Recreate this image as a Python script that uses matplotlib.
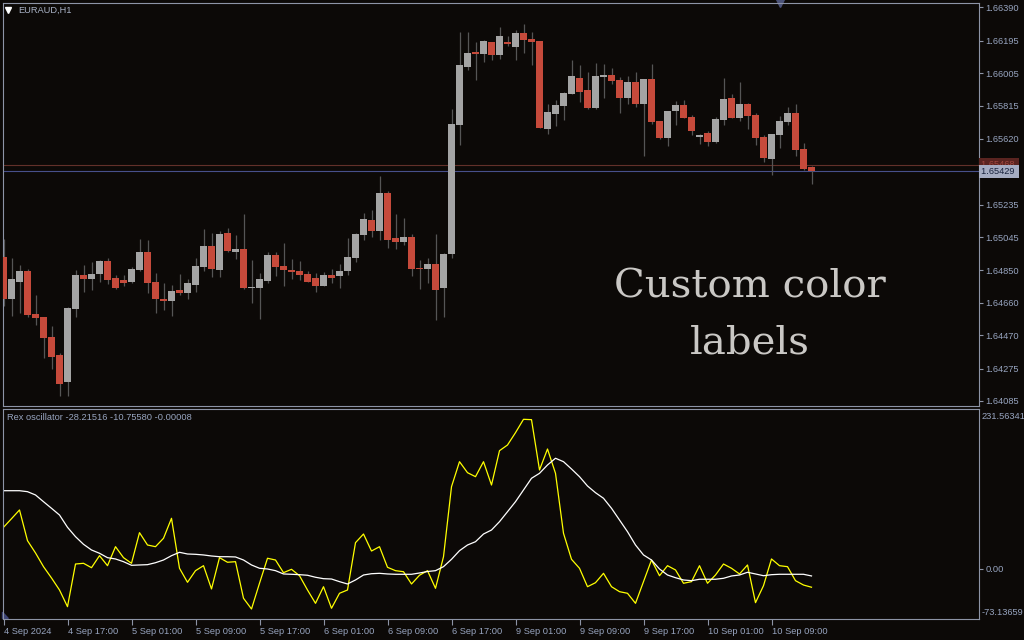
import matplotlib
matplotlib.use("Agg")
import matplotlib.pyplot as plt
import matplotlib.transforms as mtransforms
from matplotlib.patches import Polygon

# EURAUD H1 candles, 4 Sep 09:00 .. 10 Sep 14:00
opens = [1.64928, 1.64682, 1.64782, 1.64846, 1.64594, 1.64577, 1.64460, 1.64354, 1.64196, 1.64624,
         1.64823, 1.64799, 1.64828, 1.64905, 1.64805, 1.64793, 1.64782, 1.64852, 1.64957, 1.64782,
         1.64682, 1.64670, 1.64735, 1.64717, 1.64764, 1.64869, 1.64992, 1.64852, 1.65068, 1.64957,
         1.64975, 1.64746, 1.64746, 1.64787, 1.64940, 1.64875, 1.64852, 1.64846, 1.64828, 1.64805,
         1.64758, 1.64823, 1.64817, 1.64846, 1.64922, 1.65057, 1.65145, 1.65080, 1.65303, 1.65039,
         1.65016, 1.65045, 1.64864, 1.64858, 1.64887, 1.64746, 1.64946, 1.65701, 1.66040, 1.66128,
         1.66117, 1.66187, 1.66111, 1.66187, 1.66158, 1.66240, 1.66204, 1.66193, 1.65677, 1.65765,
         1.65812, 1.65882, 1.65976, 1.65906, 1.65800, 1.65982, 1.65994, 1.65964, 1.65859, 1.65953,
         1.65824, 1.65970, 1.65724, 1.65625, 1.65783, 1.65818, 1.65748, 1.65631, 1.65654, 1.65601,
         1.65730, 1.65859, 1.65742, 1.65824, 1.65759, 1.65631, 1.65502, 1.65642, 1.65718, 1.65771,
         1.65560, 1.65455]
highs = [1.65033, 1.64922, 1.64881, 1.64858, 1.64705, 1.64577, 1.64524, 1.64366, 1.64635, 1.64852,
         1.64881, 1.64899, 1.64910, 1.64922, 1.64823, 1.64823, 1.64869, 1.65033, 1.65028, 1.64834,
         1.64776, 1.64764, 1.64828, 1.64799, 1.64922, 1.65092, 1.65068, 1.65080, 1.65098, 1.65057,
         1.65180, 1.64910, 1.64834, 1.64957, 1.64957, 1.65010, 1.64916, 1.64905, 1.64846, 1.64834,
         1.64840, 1.64858, 1.64887, 1.65039, 1.65068, 1.65186, 1.65203, 1.65402, 1.65314, 1.65180,
         1.65156, 1.65063, 1.64910, 1.64922, 1.65063, 1.64951, 1.65795, 1.66245, 1.66245, 1.66187,
         1.66199, 1.66187, 1.66275, 1.66222, 1.66257, 1.66292, 1.66245, 1.66193, 1.65824, 1.65847,
         1.65894, 1.66081, 1.66052, 1.66011, 1.66064, 1.66058, 1.66035, 1.65982, 1.65988, 1.66011,
         1.65970, 1.66058, 1.65724, 1.65783, 1.65841, 1.65847, 1.65759, 1.65648, 1.65666, 1.65748,
         1.65976, 1.65882, 1.65953, 1.65830, 1.65771, 1.65642, 1.65648, 1.65754, 1.65806, 1.65824,
         1.65595, 1.65461]
lows = [1.64641, 1.64583, 1.64600, 1.64577, 1.64530, 1.64337, 1.64272, 1.64114, 1.64114, 1.64577,
        1.64723, 1.64735, 1.64782, 1.64770, 1.64741, 1.64758, 1.64776, 1.64846, 1.64717, 1.64600,
        1.64618, 1.64583, 1.64705, 1.64682, 1.64723, 1.64846, 1.64811, 1.64811, 1.64957, 1.64916,
        1.64741, 1.64659, 1.64565, 1.64776, 1.64817, 1.64758, 1.64799, 1.64793, 1.64782, 1.64723,
        1.64758, 1.64776, 1.64746, 1.64823, 1.64899, 1.65028, 1.65045, 1.65028, 1.64981, 1.64975,
        1.64998, 1.64817, 1.64741, 1.64776, 1.64559, 1.64577, 1.64922, 1.65584, 1.66023, 1.65964,
        1.66070, 1.66081, 1.66087, 1.66163, 1.66081, 1.66122, 1.66052, 1.65683, 1.65648, 1.65695,
        1.65730, 1.65882, 1.65835, 1.65795, 1.65795, 1.65859, 1.65941, 1.65771, 1.65824, 1.65806,
        1.65519, 1.65707, 1.65619, 1.65578, 1.65701, 1.65742, 1.65642, 1.65590, 1.65578, 1.65595,
        1.65701, 1.65742, 1.65724, 1.65677, 1.65584, 1.65484, 1.65408, 1.65566, 1.65701, 1.65519,
        1.65437, 1.65355]
closes = [1.64682, 1.64799, 1.64846, 1.64588, 1.64571, 1.64454, 1.64343, 1.64184, 1.64629, 1.64823,
          1.64799, 1.64828, 1.64905, 1.64793, 1.64746, 1.64776, 1.64858, 1.64957, 1.64776, 1.64682,
          1.64670, 1.64729, 1.64717, 1.64776, 1.64875, 1.64992, 1.64858, 1.65063, 1.64963, 1.64975,
          1.64746, 1.64752, 1.64799, 1.64940, 1.64869, 1.64852, 1.64840, 1.64823, 1.64782, 1.64758,
          1.64823, 1.64805, 1.64846, 1.64928, 1.65063, 1.65150, 1.65080, 1.65303, 1.65028, 1.65016,
          1.65045, 1.64858, 1.64858, 1.64887, 1.64735, 1.64946, 1.65707, 1.66052, 1.66122, 1.66117,
          1.66193, 1.66111, 1.66222, 1.66175, 1.66240, 1.66199, 1.66187, 1.65683, 1.65777, 1.65818,
          1.65888, 1.65988, 1.65894, 1.65800, 1.65988, 1.65994, 1.65958, 1.65859, 1.65953, 1.65824,
          1.65970, 1.65718, 1.65625, 1.65783, 1.65818, 1.65742, 1.65666, 1.65642, 1.65601, 1.65736,
          1.65853, 1.65742, 1.65824, 1.65754, 1.65625, 1.65508, 1.65648, 1.65724, 1.65771, 1.65554,
          1.65443, 1.65429]

# Rex oscillator (yellow) and its signal line (white)
rex = [64.5, 77.8, 91.3, 43.8, 24.8, 3.6, -13.9, -32.5, -58.3, 7.7,
       8.8, 2.0, 20.6, 5.1, 34.5, 17.5, 8.8, 56.2, 37.1, 34.5,
       47.5, 78.4, 1.1, -20.6, -2.6, 5.1, -30.9, 17.5, 10.4, 11.3,
       -45.3, -61.9, -22.1, 16.6, 13.9, -5.7, -0.5, -10.4, -32.5, -53.1,
       -27.4, -60.8, -37.6, -32.5, 40.7, 54.1, 27.8, 34.5, 2.6, -2.6,
       -4.2, -23.2, -9.7, -2.6, -29.9, 19.0, 127.3, 166.0, 149.0, 142.8,
       166.0, 129.9, 183.0, 191.8, 210.9, 231.56, 231.0, 153.2, 185.6, 148.0,
       55.2, 15.0, 1.1, -27.4, -21.2, -6.7, -27.4, -35.1, -37.6, -53.1,
       -19.6, 13.9, -10.4, 5.1, -1.5, -22.1, -19.6, 5.1, -22.1, -9.3,
       7.7, 1.1, -7.7, 6.2, -52.1, -25.8, 15.5, 5.1, 3.6, -18.1,
       -24.8, -28.22]
signal = [121.1, 121.1, 121.1, 119.6, 114.5, 104.1, 93.9, 83.5, 64.5, 50.0,
          38.2, 29.4, 24.3, 17.5, 15.5, 11.3, 5.7, 6.2, 6.7, 9.7,
          13.9, 20.6, 25.8, 23.2, 22.7, 21.7, 20.1, 19.0, 19.0, 18.6,
          13.9, 6.2, 1.1, 0.0, -2.6, -7.7, -8.2, -8.8, -9.7, -12.8,
          -15.0, -15.5, -19.6, -23.2, -17.0, -9.3, -7.3, -6.7, -7.7, -8.2,
          -8.2, -8.2, -6.2, -3.9, -2.6, 3.6, 15.0, 28.3, 37.1, 42.2,
          54.1, 60.3, 73.2, 88.6, 104.1, 122.2, 140.3, 148.0, 160.9, 171.3,
          166.0, 154.7, 142.8, 128.4, 118.0, 109.4, 93.9, 75.8, 57.7, 37.1,
          21.7, 13.9, 0.0, -9.3, -13.5, -17.0, -18.1, -15.9, -15.9, -15.9,
          -14.4, -10.8, -9.3, -5.1, -7.7, -10.4, -8.8, -8.2, -8.2, -8.2,
          -8.2, -10.76]

price_ticks = [1.66390, 1.66195, 1.66005, 1.65815, 1.65620, 1.65235, 1.65045,
               1.64850, 1.64660, 1.64470, 1.64275, 1.64085]
time_labels = ["4 Sep 2024", "4 Sep 17:00", "5 Sep 01:00", "5 Sep 09:00", "5 Sep 17:00",
               "6 Sep 01:00", "6 Sep 09:00", "6 Sep 17:00", "9 Sep 01:00", "9 Sep 09:00",
               "9 Sep 17:00", "10 Sep 01:00", "10 Sep 09:00"]
ask_price = 1.65468
bid_price = 1.65429
osc_max, osc_min = 231.56341, -73.13659
osc_values = "-28.21516 -10.75580 -0.00008"

bg = '#0c0907'
frame = '#8d94a6'
txt = '#97a4bf'
bull = '#a4a4a4'
bear = '#c64a3b'
wick = '#555555'

plt.rcParams['font.family'] = ['Liberation Sans', 'DejaVu Sans']
W, H = 1024, 640
fig = plt.figure(figsize=(W / 100, H / 100), dpi=100, facecolor=bg)


def box(x0, y0, x1, y1):
    # axes from pixel edges (top-left origin)
    return fig.add_axes([x0 / W, 1 - y1 / H, (x1 - x0) / W, (y1 - y0) / H])


ax1 = box(2.5, 2.5, 978.5, 406)
ax2 = box(2.5, 409, 978.5, 618.5)

idx = list(range(len(closes)))
for ax in (ax1, ax2):
    ax.set_facecolor(bg)
    ax.set_xlim(-0.125, 121.875)
    for s in ax.spines.values():
        s.set_color(frame)
        s.set_linewidth(0.8)
    ax.yaxis.tick_right()
    ax.tick_params(axis='y', colors=frame, labelcolor=txt, labelsize=6.7,
                   length=3, width=0.8, pad=2)

# price panel
ax1.set_ylim(1.640556, 1.664181)
ax1.set_xticks([])
ax1.set_yticks(price_ticks)
ax1.set_yticklabels([f"{p:.5f}" for p in price_ticks])

ax1.axhline(ask_price, color='#62302a', lw=0.8, zorder=1)
ax1.axhline(bid_price, color='#47508a', lw=0.8, zorder=1)

bottoms = [min(o, c) for o, c in zip(opens, closes)]
heights = [max(abs(c - o), 0.00005) for o, c in zip(opens, closes)]
colors = [bull if c >= o else bear for o, c in zip(opens, closes)]
ax1.vlines(idx, lows, highs, color=wick, lw=0.9, zorder=2)
ax1.bar(idx, heights, bottom=bottoms, width=0.82, color=colors, linewidth=0, zorder=3)

tr = mtransforms.blended_transform_factory(fig.transFigure, ax1.transData)
ax1.text(981 / W, ask_price, f"{ask_price:.5f} ", transform=tr, va='center', ha='left',
         fontsize=6.7, color='#a04840',
         bbox=dict(boxstyle='square,pad=0.2', fc='#5a2420', ec='none'), zorder=5)
ax1.text(981 / W, bid_price, f"{bid_price:.5f} ", transform=tr, va='center', ha='left',
         fontsize=6.7, color='#18223c',
         bbox=dict(boxstyle='square,pad=0.2', fc='#a6adc2', ec='none'), zorder=6)

# small markers of the terminal
ax1.plot([(8 - 2.5) / 976], [1 - (10 - 2.5) / 403.5], marker='v', color='white',
         markersize=4, transform=ax1.transAxes, clip_on=False)
ax1.plot([97.1], [1.0], marker='v', color='#4b5278', markersize=6,
         transform=mtransforms.blended_transform_factory(ax1.transData, ax1.transAxes),
         clip_on=False)
fig.text(18 / W, 1 - 10 / H, "EURAUD,H1", fontsize=6.7, color='#a9b2c6', va='center')

fig.text(750 / W, 1 - 287 / H, "Custom color", fontsize=29, family='DejaVu Serif',
         color='#cac8c5', ha='center', va='center')
fig.text(750 / W, 1 - 343 / H, "labels", fontsize=29, family='DejaVu Serif',
         color='#cac8c5', ha='center', va='center')

# oscillator panel
ax2.set_ylim(-76.6, 247.5)
ax2.plot(idx, rex, color='#ffff00', lw=0.9)
ax2.plot(idx, signal, color='white', lw=0.9)
ax2.set_yticks([0])
ax2.set_yticklabels(["0.00"])
fig.text(982 / W, 1 - 412 / H, f"{osc_max:.5f}", fontsize=6.7,
         color=txt, ha='left', va='top')
fig.text(982 / W, 1 - 617 / H, f"{osc_min:.5f}", fontsize=6.7,
         color=txt, ha='left', va='bottom')
ax2.set_xticks(list(range(0, 97, 8)))
ax2.set_xticklabels(time_labels)
ax2.tick_params(axis='x', colors=frame, labelcolor=txt, labelsize=6.7, length=4,
                width=0.8, pad=2)
for lab in ax2.get_xticklabels():
    lab.set_ha('left')
ax2.add_patch(Polygon([(0, 0), (0.006, 0), (0, 0.03)], closed=True,
                      transform=ax2.transAxes, color='#3d4475', clip_on=False))
fig.text(7 / W, 1 - 417 / H, "Rex oscillator " + osc_values, fontsize=6.7,
         color=txt, va='center')

fig.savefig("out.png", dpi=100, facecolor=bg)
